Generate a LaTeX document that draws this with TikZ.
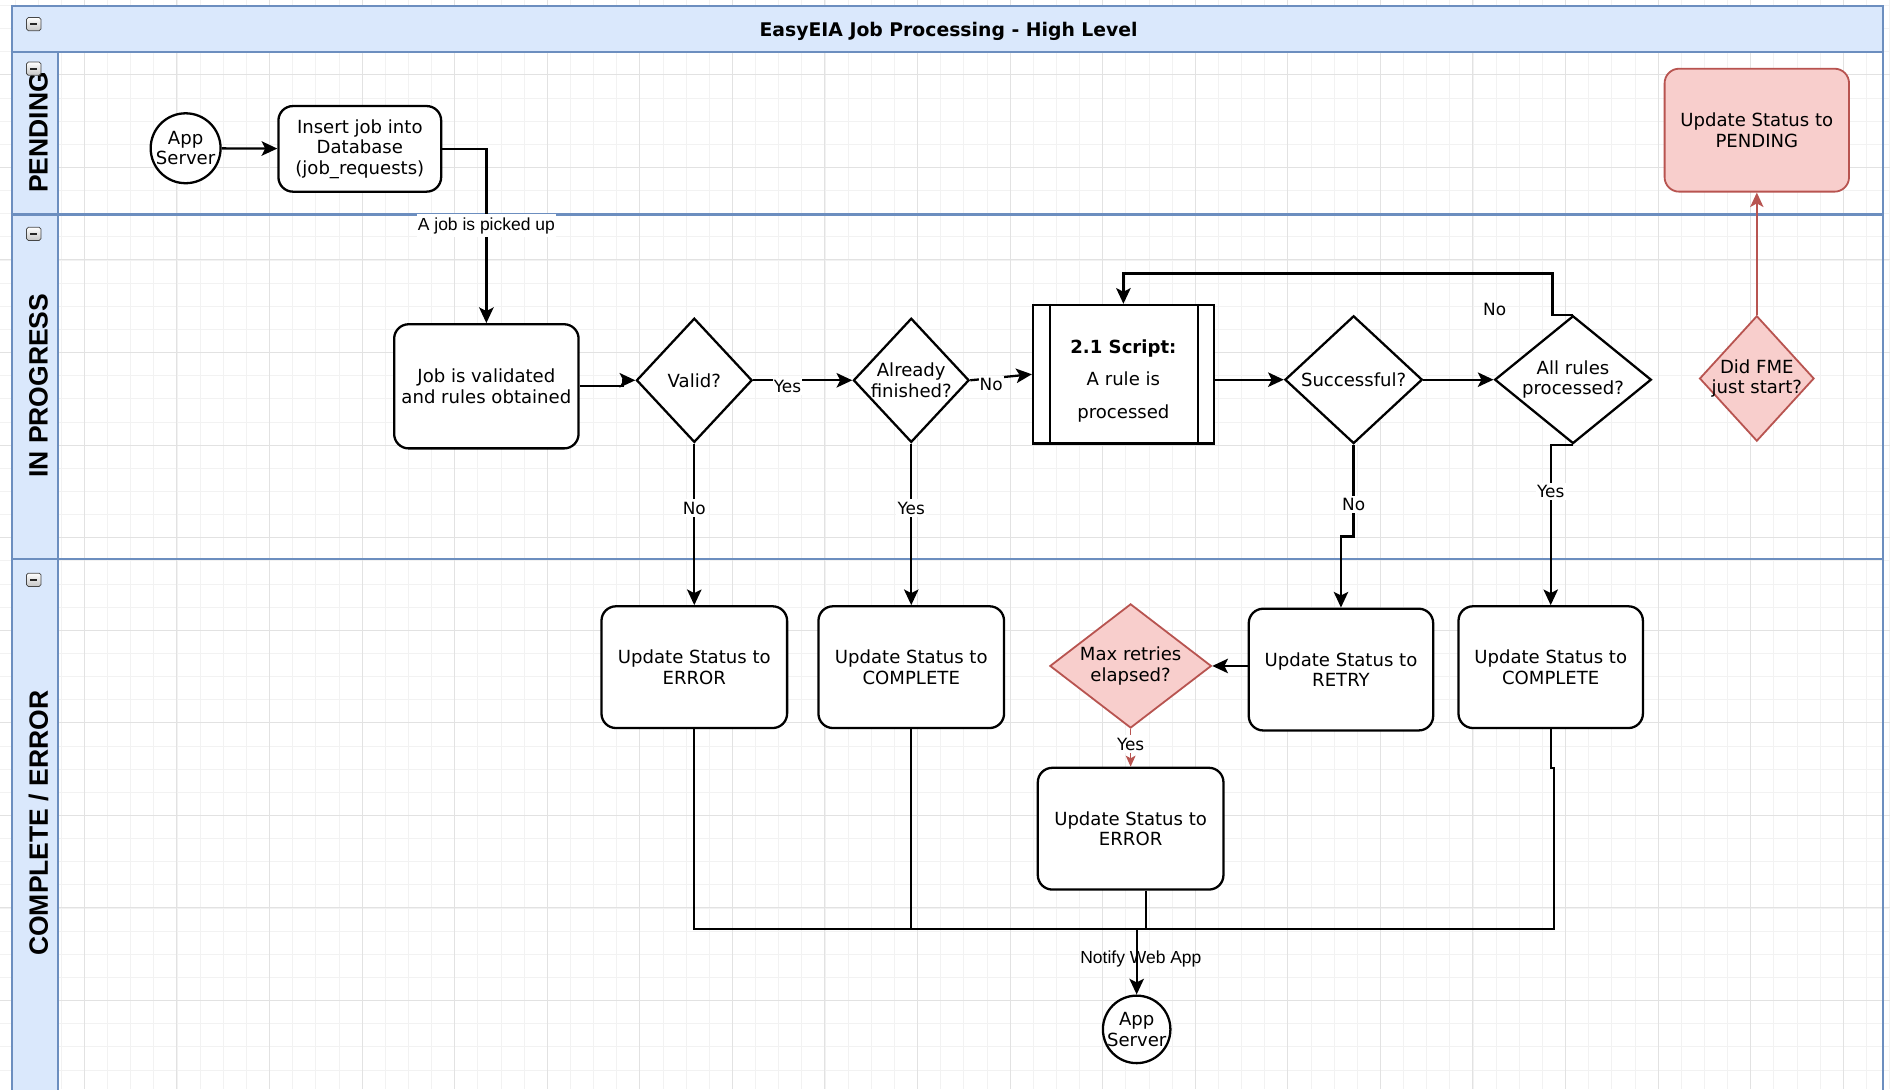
\documentclass[tikz,border=0pt]{standalone}
\usepackage{fontspec}
\setmainfont{DejaVu Sans}
\newfontfamily\arialfont{Liberation Sans}
\usetikzlibrary{shapes.geometric, arrows.meta, calc}
\definecolor{laneblue}{HTML}{6C8EBF}
\definecolor{lanefill}{HTML}{DAE8FC}
\definecolor{pinkfill}{HTML}{F8CECC}
\definecolor{pinkdraw}{HTML}{B85450}
\definecolor{gridmajor}{HTML}{E2E2E2}
\definecolor{gridminor}{HTML}{F2F2F2}
\begin{document}
\begin{tikzpicture}[x=1pt,y=-1pt,
  nodefont/.style={font=\fontsize{15}{17}\selectfont},
  procbox/.style={draw=black, line width=1.9pt, fill=white, rounded corners=12pt,
    align=center, inner sep=0pt, nodefont},
  pinkbox/.style={procbox, fill=pinkfill, draw=pinkdraw, line width=1.5pt},
  decision/.style={draw=black, line width=1.9pt, fill=white, diamond, aspect=1,
    inner xsep=-40pt, inner ysep=-25pt, align=center, nodefont},
  pinkdecision/.style={decision, fill=pinkfill, draw=pinkdraw, line width=1.5pt},
  terminal/.style={draw=black, circle, line width=1.9pt, fill=white, inner sep=-12pt,
    align=center, nodefont},
  flow/.style={line width=1.9pt, -{Stealth[length=13pt,width=12pt,inset=3pt]}},
  pinkflow/.style={line width=1.4pt, draw=pinkdraw, -{Stealth[length=9pt,width=8pt,inset=2pt]}},
  bus/.style={line width=1.9pt},
  elabel/.style={fill=white, inner xsep=1pt, inner ysep=2pt, font=\fontsize{14}{16}\selectfont},
  alabel/.style={fill=white, inner xsep=1pt, inner ysep=3pt, font=\arialfont\fontsize{14.5}{16}\selectfont},
  lanelabel/.style={rotate=90, font=\arialfont\bfseries\fontsize{22}{26}\selectfont},
  minusbox/.style={draw=gray!55!black, line width=0.6pt, rounded corners=1.5pt,
    minimum width=12pt, minimum height=11pt, inner sep=0pt, top color=white, bottom color=gray!45,
    path picture={\draw[line width=1.4pt, black!85]
      ([xshift=3pt]path picture bounding box.west) -- ([xshift=-3pt]path picture bounding box.east);}}
]
\useasboundingbox (0,0) rectangle (1568,903.5);
\fill[white] (0,0) rectangle (1568,903.5);
% grid
\foreach \gx in {12.4,31.6,...,1568} \draw[gridminor, line width=0.6pt] (\gx,0) -- (\gx,903.5);
\foreach \gy in {4.4,23.6,...,903.5} \draw[gridminor, line width=0.6pt] (0,\gy) -- (1568,\gy);
\foreach \gx in {70,146.8,...,1568} \draw[gridmajor, line width=0.8pt] (\gx,0) -- (\gx,903.5);
\foreach \gy in {62,138.8,...,903.5} \draw[gridmajor, line width=0.8pt] (0,\gy) -- (1568,\gy);
% pool
\fill[lanefill] (10,5) rectangle (1562,43);
\fill[lanefill] (10,43) rectangle (48,910);
\draw[laneblue, line width=1.9pt] (10,910) -- (10,5) -- (1562,5) -- (1562,910);
\draw[laneblue, line width=1.9pt] (10,43) -- (1562,43);
\draw[laneblue, line width=1.9pt] (10,178) -- (1562,178);
\draw[laneblue, line width=1.9pt] (10,464) -- (1562,464);
\draw[laneblue, line width=1.9pt] (48,43) -- (48,910);
\node[font=\bfseries\fontsize{15.6}{18}\selectfont] (title) at (787,26) {EasyEIA Job Processing - High Level};
\node[lanelabel] (lpend) at (32,110) {PENDING};
\node[lanelabel] (lprog) at (32,320) {IN PROGRESS};
\node[lanelabel] (lcomp) at (32,683) {COMPLETE / ERROR};
\node[minusbox] (m0) at (28,20) {};
\node[minusbox] (m1) at (28,57) {};
\node[minusbox] (m2) at (28,194) {};
\node[minusbox] (m3) at (28,481) {};
% nodes
\node[terminal, minimum size=58pt] (appA) at (154,123) {App\\Server};
\node[procbox, minimum width=135pt, minimum height=71pt] (insert) at (298.5,123.5) {Insert job into\\Database\\(job\_requests)};
\node[procbox, minimum width=153pt, minimum height=103pt] (validate) at (403.5,320.5) {Job is validated\\and rules obtained};
\node[decision, minimum width=96pt, minimum height=103pt] (valid) at (576,315.5) {Valid?};
\node[decision, minimum width=96pt, minimum height=103pt] (already) at (756,315.5) {Already\\finished?};
\node[draw=black, line width=1.9pt, fill=white, minimum width=150pt, minimum height=115pt,
  align=center, inner sep=0pt, text height=76pt, font=\fontsize{15}{27}\selectfont] (script) at (932,310.5)
  {\textbf{2.1 Script:}\\A rule is\\processed};
\draw[line width=1.9pt] ($(script.north west)+(15,0)$) -- ($(script.south west)+(15,0)$);
\draw[line width=1.9pt] ($(script.north east)+(-14,0)$) -- ($(script.south east)+(-14,0)$);
\node[decision, minimum width=114pt, minimum height=106pt] (successful) at (1123,315) {Successful?};
\node[decision, minimum width=130pt, minimum height=106pt] (allrules) at (1305,315) {All rules\\processed?};
\node[pinkdecision, minimum width=95pt, minimum height=104pt] (fme) at (1457.5,314) {Did FME\\just start?};
\node[pinkbox, minimum width=153pt, minimum height=102pt] (pending) at (1457.5,108) {Update Status to\\PENDING};
\node[procbox, minimum width=154pt, minimum height=101pt] (error1) at (576,553.5) {Update Status to\\ERROR};
\node[procbox, minimum width=154pt, minimum height=101pt] (complete1) at (756,553.5) {Update Status to\\COMPLETE};
\node[pinkdecision, minimum width=134pt, minimum height=103pt] (maxr) at (938,552.5) {Max retries\\elapsed?};
\node[procbox, minimum width=153pt, minimum height=101pt] (retry) at (1112.5,555.5) {Update Status to\\RETRY};
\node[procbox, minimum width=153pt, minimum height=101pt] (complete2) at (1286.5,553.5) {Update Status to\\COMPLETE};
\node[procbox, minimum width=154pt, minimum height=101pt] (error2) at (938,687.5) {Update Status to\\ERROR};
\node[terminal, minimum size=56pt] (appB) at (943,854) {App\\Server};
% edges
\draw[flow] (appA) -- (insert);
\draw[flow] (insert.east) -| (validate.north) node[pos=0.72, alabel] (lpick) {A job is picked up};
\draw[flow] (validate.east) -- ++(36,0) |- (valid.west);
\draw[flow] (valid.east) -- node[pos=0.345, elabel, yshift=-5pt] (lyes1) {Yes} (already.west);
\draw[flow] (already.east) -- node[pos=0.34, elabel, yshift=-5pt] (lno1) {No} (script.west);
\draw[flow] (script.east |- successful.west) -- (successful.west);
\draw[flow] (successful.east) -- (allrules.west);
\draw[flow] (allrules.north) -- ++(-17,0) |- (script.north |- 0,227) -- (script.north);
\node[font=\fontsize{14}{16}\selectfont] (lno2) at (1240,257) {No};
\draw[flow] (allrules.south) -- ++(-18.5,0) -- node[pos=0.29, elabel] (lyes3) {Yes} (complete2.north);
\draw[flow] (successful.south) -- node[pos=0.65, elabel] (lno3) {No} (successful.south |- 0,445) -| (retry.north);
\draw[flow] (valid.south) -- node[pos=0.4, elabel] (lno4) {No} (error1.north);
\draw[flow] (already.south) -- node[pos=0.4, elabel] (lyes2) {Yes} (complete1.north);
\draw[flow] (retry.west |- maxr.east) -- (maxr.east);
\draw[pinkflow] (maxr.south) -- node[pos=0.4, elabel, text=black] (lyes4) {Yes} (error2.north);
\draw[line width=1.6pt, draw=pinkdraw, -{Stealth[length=12pt,width=11pt,inset=3pt]}] (fme.north) -- (pending.south);
% collector
\coordinate (busC) at (943,771);
\draw[bus] (error1.south) -- (error1.south |- 0,771) -- (1289,771) -- (1289,637) -- (complete2.south |- 0,637) -- (complete2.south);
\draw[bus] (complete1.south) -- (complete1.south |- 0,771);
\draw[bus] ($(error2.south)+(13,0)$) -- ($(error2.south)+(13,33)$);
\draw[flow] (busC) -- node[pos=0.45, xshift=3.5pt, font=\arialfont\fontsize{14.5}{16}\selectfont] (lnotify) {Notify Web App} (appB.north);
\end{tikzpicture}
\end{document}
